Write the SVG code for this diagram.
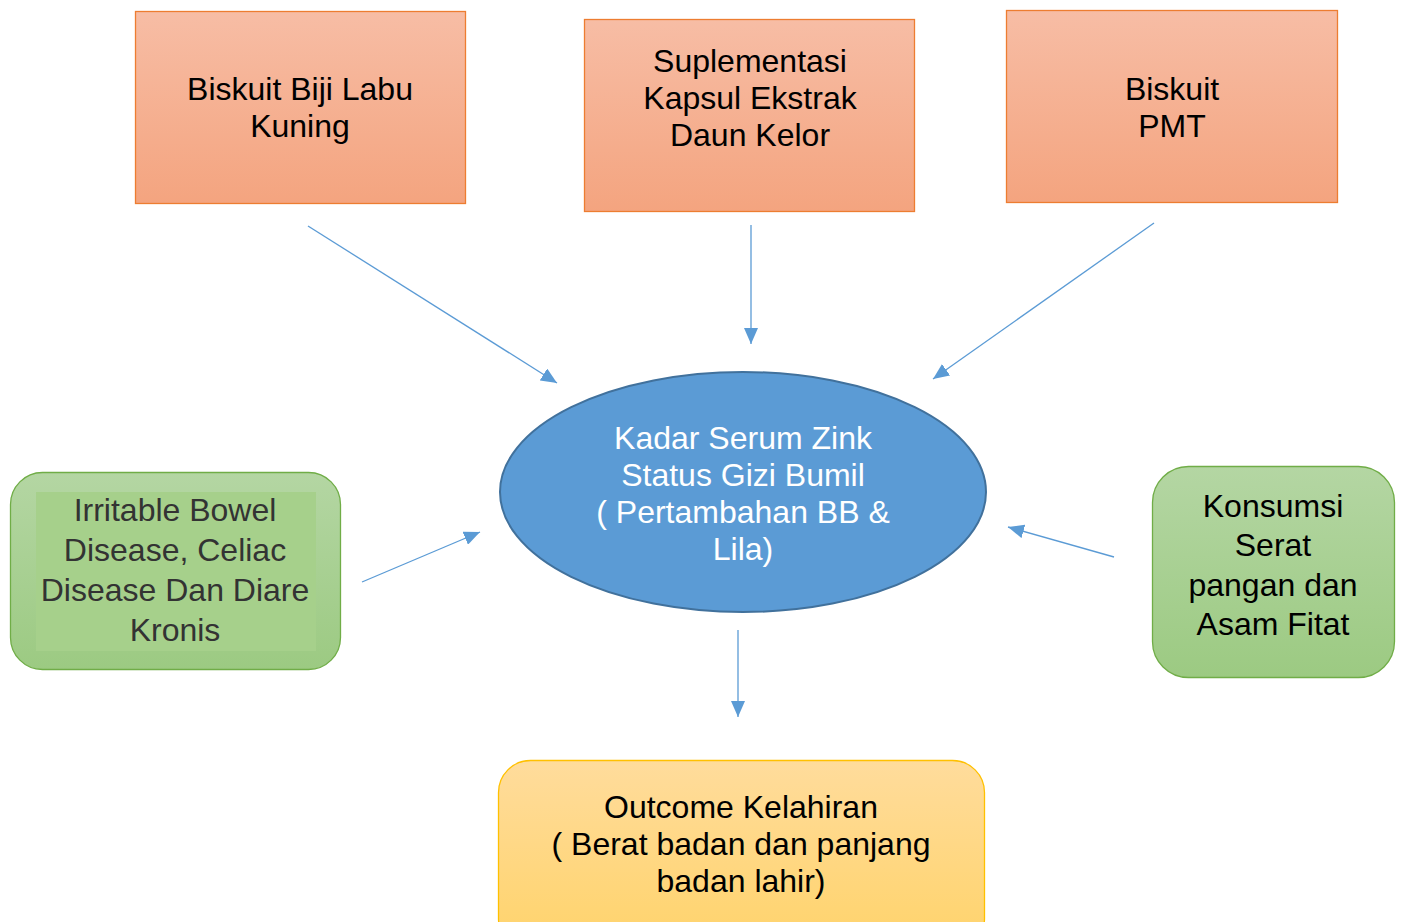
<svg xmlns="http://www.w3.org/2000/svg" width="1402" height="922" viewBox="0 0 1402 922">
<defs>
<linearGradient id="gOr" x1="0" y1="0" x2="0" y2="1"><stop offset="0" stop-color="#F7BDA5"/><stop offset="1" stop-color="#F4A47F"/></linearGradient>
<linearGradient id="gGr" x1="0" y1="0" x2="0" y2="1"><stop offset="0" stop-color="#B4D6A3"/><stop offset="1" stop-color="#9CCA82"/></linearGradient>
<linearGradient id="gYe" x1="0" y1="0" x2="0" y2="1"><stop offset="0" stop-color="#FFDC9C"/><stop offset="1" stop-color="#FFD36A"/></linearGradient>
<marker id="ah" markerUnits="userSpaceOnUse" markerWidth="18" markerHeight="14" refX="16" refY="7" orient="auto"><path d="M0,0 L16,7 L0,14 Z" fill="#5B9BD5"/></marker>
<style>
text{font-family:"Liberation Sans",Arial,sans-serif;font-size:32px;text-anchor:middle}
.box{fill:url(#gOr);stroke:#ED7D31;stroke-width:1.3}
.grn{fill:url(#gGr);stroke:#70AD47;stroke-width:1.3}
.ylw{fill:url(#gYe);stroke:#FFC000;stroke-width:1.3}
.con line{stroke:#5B9BD5;stroke-width:1.3;marker-end:url(#ah)}
</style>
</defs>
<rect width="1402" height="922" fill="#ffffff"/>
<g id="n1"><rect class="box" x="135.5" y="11.5" width="330" height="192"/>
<text x="300" y="100">Biskuit Biji Labu</text><text x="300" y="137">Kuning</text></g>
<g id="n2"><rect class="box" x="584.5" y="19.5" width="330" height="192"/>
<text x="750" y="72">Suplementasi</text><text x="750" y="109">Kapsul Ekstrak</text><text x="750" y="146">Daun Kelor</text></g>
<g id="n3"><rect class="box" x="1006.5" y="10.5" width="331" height="192"/>
<text x="1172" y="100">Biskuit</text><text x="1172" y="137">PMT</text></g>
<g id="n4"><ellipse cx="743" cy="492" rx="243" ry="120" fill="#5B9BD5" stroke="#41719C" stroke-width="2"/>
<g fill="#ffffff"><text x="743" y="449">Kadar Serum Zink</text><text x="743" y="486">Status Gizi Bumil</text><text x="743" y="523">( Pertambahan BB &amp;</text><text x="743" y="560">Lila)</text></g></g>
<g id="n5"><rect class="grn" x="10.5" y="472.5" width="330" height="197" rx="32"/>
<rect x="36" y="492" width="280" height="159" fill="#A6D08B"/>
<g fill="#333333"><text x="175" y="521">Irritable Bowel</text><text x="175" y="561">Disease, Celiac</text><text x="175" y="601">Disease Dan Diare</text><text x="175" y="641">Kronis</text></g></g>
<g id="n6"><rect class="grn" x="1152.5" y="466.5" width="242" height="211" rx="36"/>
<text x="1273" y="517">Konsumsi</text><text x="1273" y="556">Serat</text><text x="1273" y="596">pangan dan</text><text x="1273" y="635">Asam Fitat</text></g>
<g id="n7"><rect class="ylw" x="498.5" y="760.5" width="486" height="190" rx="32"/>
<text x="741" y="818">Outcome Kelahiran</text><text x="741" y="855">( Berat badan dan panjang</text><text x="741" y="892">badan lahir)</text></g>
<g class="con" id="connectors">
<line x1="308" y1="226" x2="557" y2="383"/>
<line x1="751" y1="225" x2="751" y2="344"/>
<line x1="1154" y1="223" x2="933" y2="379"/>
<line x1="362" y1="582" x2="480" y2="532"/>
<line x1="1114" y1="557" x2="1008" y2="527"/>
<line x1="738" y1="630" x2="738" y2="717"/>
</g>
</svg>
